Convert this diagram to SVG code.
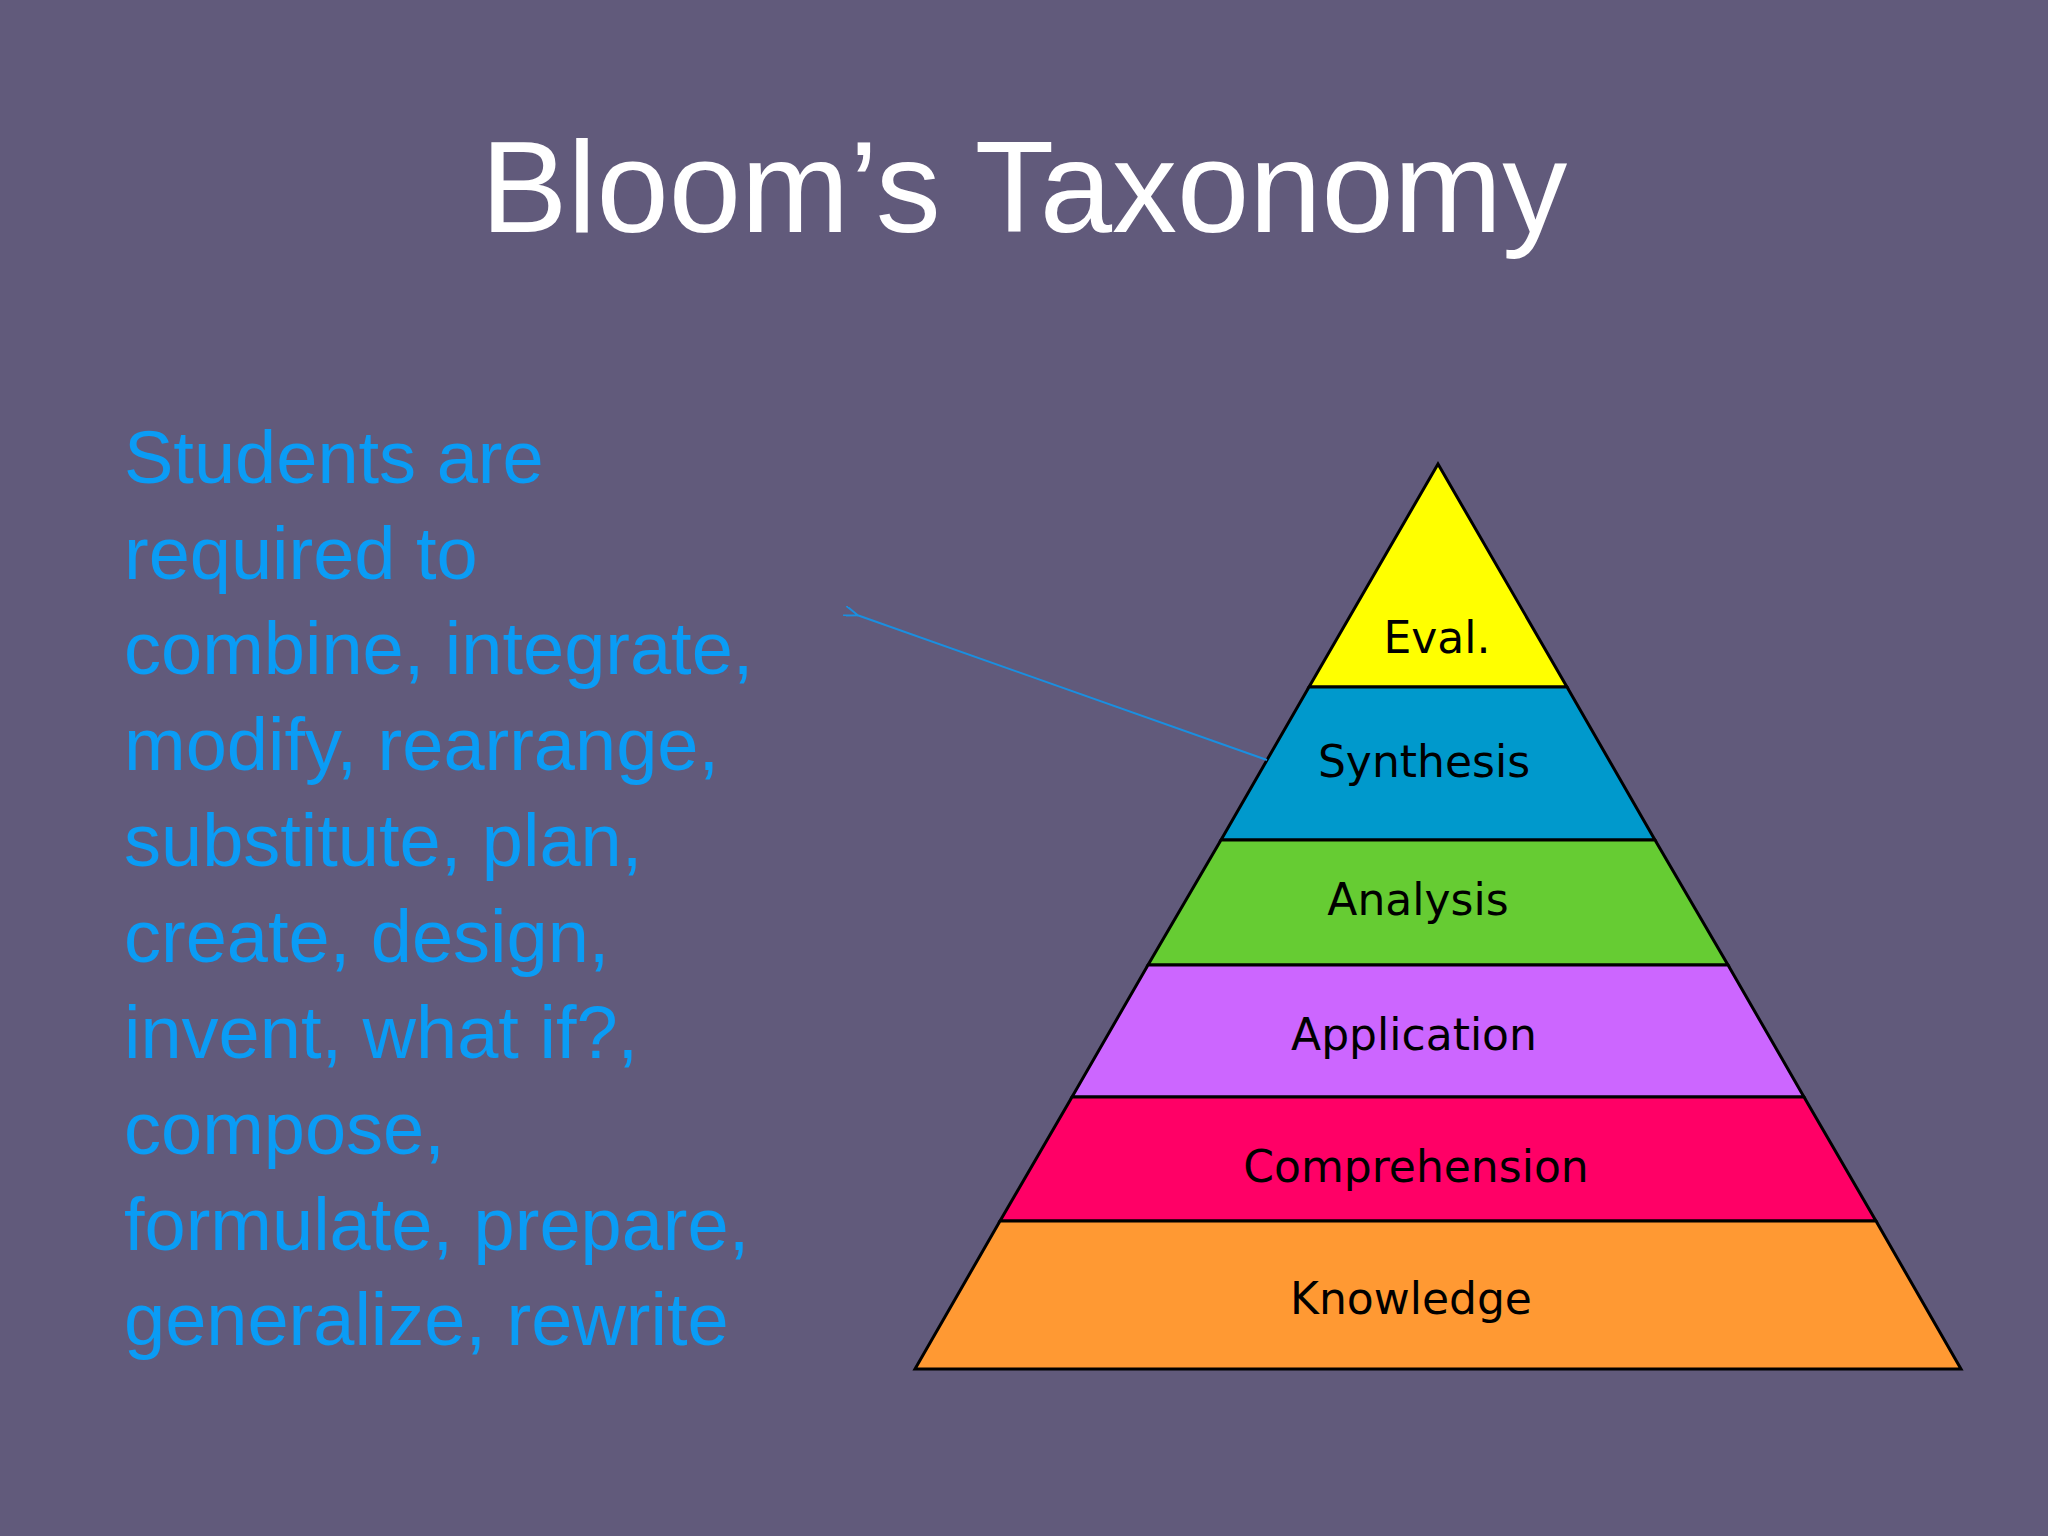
<svg xmlns="http://www.w3.org/2000/svg" width="2048" height="1536" viewBox="0 0 2048 1536">
<style>
.lvl{stroke:#000;stroke-width:3}
.lbl{font-family:"DejaVu Sans",sans-serif;font-size:44px;fill:#000;text-anchor:middle;dominant-baseline:central}
.body{font-family:"Liberation Sans",Arial,sans-serif;font-size:74px;fill:#0a9cf5}
</style>
<defs><marker id="ah" markerWidth="14" markerHeight="10" refX="1" refY="5" orient="auto" markerUnits="userSpaceOnUse"><path d="M14,0 L0,5 L14,10" fill="none" stroke="#1a8fe0" stroke-width="2"/></marker></defs>
<rect width="2048" height="1536" fill="#615a7b"/>
<text x="1024" y="232" font-family="Liberation Sans,Arial,sans-serif" font-size="130" fill="#fff" text-anchor="middle">Bloom’s Taxonomy</text>
<g id="text">
<text class="body" x="124" y="483">Students are</text>
<text class="body" x="124" y="579">required to</text>
<text class="body" x="124" y="674">combine, integrate,</text>
<text class="body" x="124" y="770">modify, rearrange,</text>
<text class="body" x="124" y="866">substitute, plan,</text>
<text class="body" x="124" y="962">create, design,</text>
<text class="body" x="124" y="1058">invent, what if?,</text>
<text class="body" x="124" y="1154">compose,</text>
<text class="body" x="124" y="1250">formulate, prepare,</text>
<text class="body" x="124" y="1345">generalize, rewrite</text>
</g>
<g id="eval"><polygon class="lvl" points="1438,464 1567,687 1309,687" fill="#ffff00"/><text class="lbl" x="1437" y="637">Eval.</text></g>
<g id="synthesis"><polygon class="lvl" points="1309,687 1567,687 1655,840 1221,840" fill="#0099cc"/><text class="lbl" x="1424" y="761">Synthesis</text></g>
<g id="analysis"><polygon class="lvl" points="1221,840 1655,840 1728,965 1148,965" fill="#66cc33"/><text class="lbl" x="1418" y="899">Analysis</text></g>
<g id="application"><polygon class="lvl" points="1148,965 1728,965 1804,1097 1072,1097" fill="#cc66ff"/><text class="lbl" x="1414" y="1034">Application</text></g>
<g id="comprehension"><polygon class="lvl" points="1072,1097 1804,1097 1876,1221 1000,1221" fill="#ff0066"/><text class="lbl" x="1416" y="1166">Comprehension</text></g>
<g id="knowledge"><polygon class="lvl" points="1000,1221 1876,1221 1961,1369 915,1369" fill="#ff9933"/><text class="lbl" x="1411" y="1298">Knowledge</text></g>
<g id="connectors"><line x1="1267" y1="760" x2="857" y2="615" stroke="#1a8fe0" stroke-width="2" marker-end="url(#ah)"/></g>
</svg>
